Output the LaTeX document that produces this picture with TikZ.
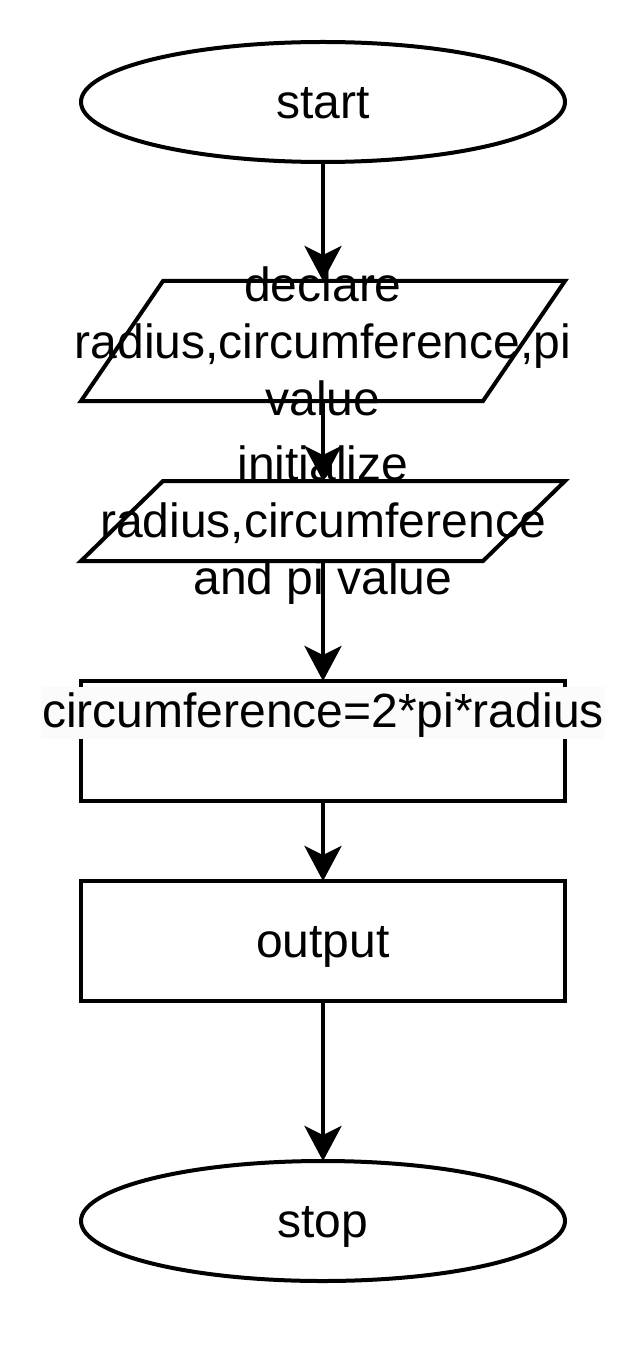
\documentclass[tikz,border=0pt]{standalone}
\usepackage{fontspec}
\setmainfont{Liberation Sans}
\usetikzlibrary{positioning,shapes.geometric,arrows.meta}
\definecolor{labelbg}{RGB}{251,251,251}

\begin{document}
\begin{tikzpicture}[
    every node/.style={font=\fontsize{48}{57}\selectfont, outer sep=0pt, inner sep=0pt},
    term/.style={ellipse, draw=black, line width=4pt, minimum width=484pt, minimum height=120pt, text height=43pt, text depth=10pt},
    rect/.style={rectangle, draw=black, line width=4pt, minimum width=484pt, minimum height=120pt, text height=43pt, text depth=10pt},
    io/.style={rectangle, minimum width=484pt},
    iotext/.style={align=center},
    slanted/.style={draw=black, line width=4pt, line join=miter},
    flow/.style={-{Stealth[length=35pt, width=37pt, inset=9pt]}, line width=4pt}]
    \useasboundingbox (-323pt,102pt) rectangle (317pt,-1262pt);

    % Nodes
    \node[term] (start) {start};

    \node[io, minimum height=120pt] (declare) [below=119pt of start] {};
    \node[iotext] (declaretext) at (declare.center) {declare\\radius,circumference,pi\\value};

    \node[io, minimum height=80pt] (init) [below=80pt of declare] {};
    \node[iotext] (inittext) at ([yshift=-4pt]init.center) {initialize\\radius,circumference\\and pi value};

    \node[rect] (calc) [below=120pt of init] {};
    \node[fill=labelbg, inner xsep=1pt, text height=40pt, text depth=12pt] (formula) [below=6pt of calc.north] {circumference=2*pi*radius};

    \node[rect] (output) [below=80pt of calc] {output};
    \node[term] (stop) [below=160pt of output] {stop};

    % Shapes
    \draw[slanted] ([xshift=82pt]declare.north west) -- (declare.north east)
        -- ([xshift=-82pt]declare.south east) -- (declare.south west) -- cycle;
    \draw[slanted] ([xshift=82pt]init.north west) -- (init.north east)
        -- ([xshift=-82pt]init.south east) -- (init.south west) -- cycle;

    % Arrows
    \draw[flow] (start.south) -- (declare.north);
    \draw[flow] (declare.south) -- (init.north);
    \draw[flow] (init.south) -- (calc.north);
    \draw[flow] (calc.south) -- (output.north);
    \draw[flow] (output.south) -- (stop.north);
\end{tikzpicture}
\end{document}
